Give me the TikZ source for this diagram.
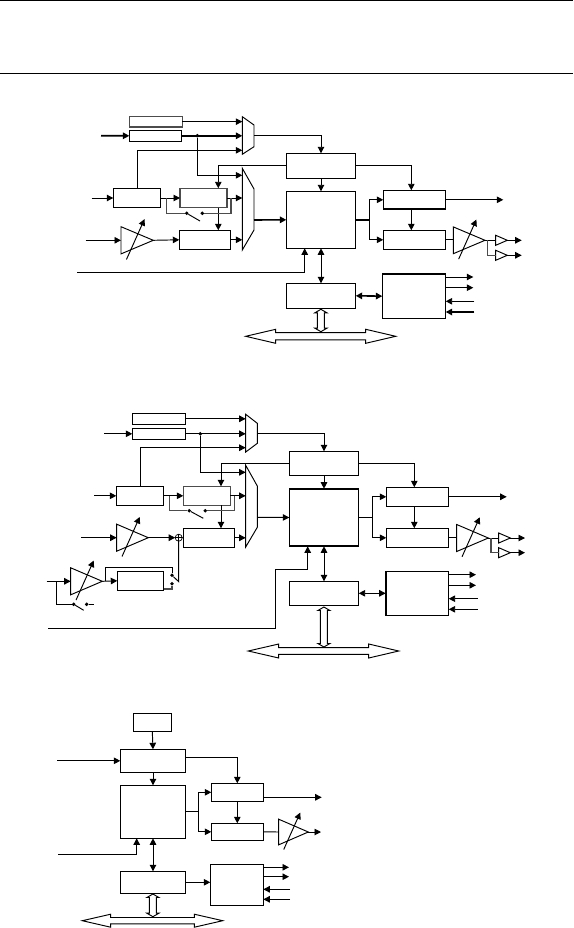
\documentclass[tikz,border=0pt]{standalone}
\usetikzlibrary{arrows.meta,calc}
\tikzset{
  ln/.style={line width=0.95pt,draw=black},
  ar/.style={ln,-{Triangle[length=6.5pt,width=6.5pt]}},
  dar/.style={ln,{Triangle[length=6.5pt,width=6.5pt]}-{Triangle[length=6.5pt,width=6.5pt]}},
  thk/.style={line width=1.8pt},
  hv/.style={line width=1.6pt},
  gry/.style={draw=black!70,line width=1.2pt},
  boxn/.style={rectangle,draw=black,line width=0.95pt,inner sep=0pt,outer sep=0pt},
  dotn/.style={circle,fill=black,inner sep=0pt,minimum size=3.8pt,outer sep=0pt},
  sumn/.style={circle,draw=black,line width=0.7pt,inner sep=0pt,minimum size=7pt,outer sep=0pt},
  shp/.style={line width=0.95pt,draw=black,fill=white,line join=miter},
  rulen/.style={line width=0.9pt,draw=black}
}
\newcommand\mybox[6][]{%
  \pgfmathsetmacro\bxW{#5-#3}\pgfmathsetmacro\bxH{#6-#4}%
  \pgfmathsetmacro\bxX{(#5+#3)/2}\pgfmathsetmacro\bxY{(#6+#4)/2}%
  \node[boxn,minimum width=\bxW pt,minimum height=\bxH pt,#1] (#2) at (\bxX,\bxY) {};}
% name, x1, x2, y1..y4, ymid
\newcommand\mymux[8]{%
  \draw[shp] (#2,#4) -- (#3,#5) -- (#3,#6) -- (#2,#7) -- cycle;
  \coordinate (#1) at (#2,#8); \coordinate (#1O) at (#3,#8);}
% name, xl, xr, yc, half height
\newcommand\myamp[5]{%
  \pgfmathsetmacro\ampS{(#3-#2)/32}%
  \draw[shp] (#2,#4-#5) -- (#3,#4) -- (#2,#4+#5) -- cycle;
  \coordinate (#1) at (#2,#4); \coordinate (#1O) at (#3,#4);
  \coordinate (#1S) at ($(#2,#4)+(5.4*\ampS,19*\ampS)$);
  \coordinate (#1E) at ($(#2,#4)+(23.3*\ampS,-21*\ampS)$);
  \draw[ar] (#1S) -- (#1E);}
% name, xl, xr, yc
\newcommand\mybuf[4]{%
  \draw[shp] (#2,#4-5) -- (#3,#4) -- (#2,#4+5) -- cycle;
  \coordinate (#1) at (#2,#4); \coordinate (#1O) at (#3,#4);}
% vertical hollow double arrow x,y1,y2
\newcommand\myvh[3]{%
  \draw[shp] (#1,#2) -- (#1+6,#2+3.5) -- (#1+3.5,#2+3.5) -- (#1+3.5,#3-3.5) -- (#1+6,#3-3.5) -- (#1,#3)
   -- (#1-6,#3-3.5) -- (#1-3.5,#3-3.5) -- (#1-3.5,#2+3.5) -- (#1-6,#2+3.5) -- cycle;}
% horizontal bus: tip1, base1, base2, tip2, yc, head half, shaft half
\newcommand\myhb[7]{%
  \draw[shp] (#1,#5) -- (#2,#5-#6) -- (#2,#5-#7) -- (#3,#5-#7) -- (#3,#5-#6) -- (#4,#5)
   -- (#3,#5+#6) -- (#3,#5+#7) -- (#2,#5+#7) -- (#2,#5+#6) -- cycle;}
\begin{document}
\begin{tikzpicture}[x=1pt,y=-1pt]
\useasboundingbox (0,0) rectangle (573,928);
\draw[rulen] (0,0.5) -- (573,0.5);
\draw[rulen] (0,73.5) -- (573,73.5);

%%%%%%%%%%%%%% Diagram 1
\mybox[gry]{aA}{129.3}{116.3}{182.3}{127}
\mybox{aB}{129.3}{130.3}{181.7}{141.3}
\mybox{aC}{113.3}{188.3}{160.7}{207.7}
\mybox[gry]{aD}{180}{188.3}{227}{207.7}
\mybox{aE}{179.3}{230.3}{230.7}{249.3}
\mybox{aF}{286.3}{153.3}{355.7}{178.3}
\mybox{aG}{286.3}{191.3}{355.7}{248.3}
\mybox{aH}{383.3}{190.3}{445.7}{209.3}
\mybox{aI}{383.3}{230.3}{445.7}{249.3}
\mybox{aJ}{286.3}{283.3}{355.7}{308.3}
\mybox{aK}{382.3}{274}{445.7}{318.3}
\draw[thk] (aH.south west) -- (aH.south east);
\draw[thk] (aK.north west) -- (aK.north east);
\mymux{aM1}{242.3}{254}{116.7}{125}{146.7}{154.3}{135.7}
\mymux{aM2}{242.3}{254}{168.3}{189}{230}{250}{220}
\myamp{aP}{121}{153.3}{240.3}{13.6}
\myamp{aQ}{453.3}{485}{240.3}{13.4}
\mybuf{aR}{495.7}{507.3}{240.3}
\mybuf{aT}{495.7}{507.3}{255.3}
\node[dotn] (aD1) at (197.3,135.7) {};
\node[dotn] (aD2) at (186.7,213.3) {};
\node[dotn] (aD3) at (202.3,213.3) {};
\coordinate (aIn1) at (101,135.7);
\coordinate (aIn2) at (91.7,198);
\coordinate (aIn3) at (85.7,240.3);
\coordinate (aIn4) at (77,272.3);
\coordinate (aGb) at (304.7,248.3);
\coordinate (aDt) at (218.3,188.3);
\coordinate (aJn) at (369.3,219.8);
\coordinate (aHt) at (411.3,190.3);
\coordinate (aCk) at (487.7,240.3);
\draw[ar] (aA.east) -- (aA.east -| aM1);
\draw[ar,hv] (aIn1) -- (aB.west);
\draw[ar,hv] (aB.east) -- (aB.east -| aM1);
\draw[ar] (aC.north) |- (aM1 |- 0,150.3);
\draw[ar] (aD1) |- (aM2 |- 0,175.3);
\draw[ar] (aIn2) -- (aC.west);
\draw[ar] (aC.east) -- (aD.west);
\draw[ar] (aD.east) -- (aD.east -| aM2);
\draw[ar] (aE.east) -- (aE.east -| aM2);
\draw[ar] (aF.west) -| (aDt);
\draw[ar] (aD.south -| aDt) -- (aE.north -| aDt);
\draw[ln,gry] (166.3,198) |- (aD2);
\draw[ln] (aD2) -- (200,221);
\draw[ln,gry] (aD3) -| (231,198);
\draw[ar] (aIn3) -- (aP);
\draw[ar] (aPO) -- (aE.west);
\draw[ar] (aIn4) -| (aGb);
\draw[ar] (aM1O) -| (aF.north);
\draw[ar] (aF.south) -- (aG.north);
\draw[ar,hv] (aM2O) -- (aG.west);
\draw[thk] (aG.east) -- (aJn);
\draw[ar] (aJn) |- (aH.west);
\draw[ar] (aJn) |- (aI.west);
\draw[ar] (aF.east) -| (aHt);
\draw[ar] (aH.south -| aHt) -- (aI.north -| aHt);
\draw[ar] (aH.east) -- (503.3,199.8);
\draw[ln] (aI.east) -- (aI.east -| aQ);
\draw[ln] (aQO) -- (aR);
\draw[ln,gry] (aCk) |- (aT);
\draw[ar] (aRO) -- (521.7,240.3);
\draw[ar] (aTO) -- (521.7,255.3);
\draw[dar] (aG.south) -- (aJ.north);
\draw[dar,hv] (aJ.east) -- (aK.west);
\draw[ar] (aK.east |- 0,277) -- (473.3,277);
\draw[ar] (aK.east |- 0,287.7) -- (473.3,287.7);
\draw[ar] (474.3,301.3) -- (aK.east |- 0,301.3);
\draw[ar,hv] (474.3,312) -- (aK.east |- 0,312);
\myvh{320.9}{309.3}{331.7}
\myhb{245.7}{275.7}{365.7}{395.7}{336.3}{7}{3.6}

%%%%%%%%%%%%%% Diagram 2
\mybox{bA}{132.3}{413.3}{185.7}{424.3}
\mybox{bB}{132.3}{428.3}{185.7}{439.3}
\mybox{bC}{116.3}{486.3}{163.7}{505.3}
\mybox[gry]{bD}{183.3}{486.3}{230.3}{505.3}
\mybox{bE}{183.3}{528.3}{234.3}{547.3}
\mybox{bL}{117.3}{571.3}{163.7}{590.3}
\mybox{bF}{289.3}{451.3}{358.7}{475.3}
\mybox{bG}{289.3}{488.7}{358.7}{546.3}
\mybox{bH}{386.3}{487.3}{448.7}{506.3}
\mybox{bI}{386.3}{528.3}{448.7}{547.3}
\mybox{bJ}{289.3}{581.3}{358.7}{605.3}
\mybox{bK}{385.7}{571.3}{448.7}{615.3}
\draw[thk] (bG.north west) -- (bG.north east);
\draw[thk] (bG.south west) -- (bG.south east);
\draw[thk] (bK.north west) -- (bK.south west);
\mymux{bM1}{245.7}{257.3}{414.3}{423.3}{443.3}{452}{433.3}
\mymux{bM2}{245.7}{257.3}{465.3}{486}{527.3}{547}{517.3}
\myamp{bP}{116.7}{148.3}{537.7}{13.5}
\myamp{bU}{70.7}{102.3}{581.3}{13.5}
\myamp{bQ}{456.7}{488.3}{538}{13.5}
\mybuf{bR}{498.7}{510.3}{538}
\mybuf{bT}{498.7}{510.3}{552.7}
\node[dotn] (bD1) at (200.3,433.8) {};
\node[dotn] (bD2) at (189.3,510.7) {};
\node[dotn] (bD3) at (205.3,510.7) {};
\node[dotn] (bD4) at (172,575.3) {};
\node[dotn] (bD5) at (172,583.7) {};
\node[dotn] (bD6) at (73.7,604.3) {};
\node[dotn] (bD7) at (86.7,604.3) {};
\node[sumn] (bS) at (178.7,537.7) {};
\draw[line width=0.6pt] (bS.north) -- (bS.south);
\draw[line width=0.6pt] (bS.west) -- (bS.east);
\coordinate (bIn1) at (104,433.8);
\coordinate (bIn2) at (94.3,495.8);
\coordinate (bIn3) at (81.3,537.7);
\coordinate (bIn4) at (46.7,581.3);
\coordinate (bIn5) at (48.3,628.3);
\coordinate (bDt) at (221,486.3);
\coordinate (bJn) at (372.3,517.5);
\coordinate (bHt) at (414.3,487.3);
\coordinate (bCk) at (491,538);
\coordinate (bGb) at (307.7,546.3);
\coordinate (bKnee) at (275.7,569.3);
\coordinate (bSw) at (178.7,581.7);
\draw[ar] (bA.east) -- (bA.east -| bM1);
\draw[ar] (bIn1) -- (bB.west);
\draw[ar] (bB.east) -- (bB.east -| bM1);
\draw[ar] (bC.north) |- (bM1 |- 0,447.7);
\draw[ar] (bD1) |- (bM2 |- 0,472.3);
\draw[ar] (bIn2) -- (bC.west);
\draw[ar] (bC.east) -- (bD.west);
\draw[ar] (bD.east) -- (bD.east -| bM2);
\draw[ar] (bE.east) -- (bE.east -| bM2);
\draw[ar] (bF.west) -| (bDt);
\draw[ar] (bD.south -| bDt) -- (bE.north -| bDt);
\draw[ln,gry] (169.3,495.8) |- (bD2);
\draw[ln] (bD2) -- (203.3,518.3);
\draw[ln,gry] (bD3) -| (234.3,495.8);
\draw[ar] (bIn3) -- (bP);
\draw[ar] (bPO) -- (bS.west);
\draw[ln] (bS.east) -- (bE.west);
\draw[ar] (bIn4) -- (bU);
\draw[ar] (bUO) -- (bL.west);
\draw[ln] (105,581.3) |- (172,567.3) -- (bD4);
\draw[ln,gry] (bL.east |- 0,589) -| (bD5);
\draw[ln] (bD4) -- (bSw) -- (bS.south);
\draw[ln] (56,581.3) |- (bD6);
\draw[ln] (bD6) -- (83.7,610.3);
\draw[ln] (bD7) -- (94.3,604.3);
\draw[ln] (bIn5) -| (bKnee);
\draw[ar] (bKnee) -| (bGb);
\draw[ar] (bM1O) -| (bF.north);
\draw[ar] (bF.south) -- (bG.north);
\draw[ar] (bM2O) -- (bG.west);
\draw[ln] (bG.east) -- (bJn);
\draw[ar] (bJn) |- (bH.west);
\draw[ar] (bJn) |- (bI.west);
\draw[ar] (bF.east) -| (bHt);
\draw[ar] (bH.south -| bHt) -- (bI.north -| bHt);
\draw[ar] (bH.east) -- (506.7,496.8);
\draw[ln] (bI.east) -- (bI.east -| bQ);
\draw[ln] (bQO) -- (bR);
\draw[ln,gry] (bCk) |- (bT);
\draw[ar] (bRO) -- (525,538);
\draw[ar] (bTO) -- (525,552.7);
\draw[dar] (bG.south) -- (bJ.north);
\draw[dar] (bJ.east) -- (bK.west);
\draw[ar] (bK.east |- 0,574.7) -- (476,574.7);
\draw[ar] (bK.east |- 0,585.3) -- (476,585.3);
\draw[ar] (477.7,598.7) -- (bK.east |- 0,598.7);
\draw[ar] (477.7,609.3) -- (bK.east |- 0,609.3);
\myvh{323.9}{607}{647}
\myhb{248.3}{278.7}{368.7}{398.7}{651}{7}{3.4}

%%%%%%%%%%%%%% Diagram 3
\mybox{cT}{133.3}{713.3}{171.3}{731.3}
\mybox{cF}{120.3}{749.3}{185.7}{772.3}
\mybox{cG}{120.3}{785.3}{185.7}{838.3}
\mybox{cH}{211.3}{783.3}{263.3}{801.3}
\mybox{cI}{211.3}{823.3}{263.3}{840.3}
\mybox{cJ}{120.3}{871.3}{185.7}{893.3}
\mybox{cK}{210.3}{864.3}{263.3}{905.3}
\myamp{cQ}{278.7}{308.3}{832}{12.8}
\coordinate (cIn1) at (57,760.8);
\coordinate (cIn2) at (58,854.3);
\coordinate (cGb) at (136.7,838.3);
\coordinate (cJn) at (198.3,811.8);
\coordinate (cHt) at (237.3,783.3);
\draw[ar] (cT.south) -- (cF.north);
\draw[ar] (cIn1) -- (cF.west);
\draw[ar] (cF.south) -- (cG.north);
\draw[ln] (cG.east) -- (cJn);
\draw[ar] (cJn) |- (cH.west);
\draw[ar] (cJn) |- (cI.west);
\draw[ar] (cF.east |- 0,757.3) -| (cHt);
\draw[ar] (cH.south -| cHt) -- (cI.north -| cHt);
\draw[ar] (cH.east |- 0,797.3) -- (321.7,797.3);
\draw[ln] (cI.east) -- (cQ);
\draw[ar] (cQO) -- (321,832);
\draw[ar] (cIn2) -| (cGb);
\draw[dar] (cG.south) -- (cJ.north);
\draw[ar] (cJ.east) -- (cK.west |- cJ.east);
\draw[ar] (cK.east |- 0,867.3) -- (289,867.3);
\draw[ar] (cK.east |- 0,876.7) -- (289,876.7);
\draw[ar] (290,889.3) -- (cK.east |- 0,889.3);
\draw[ar] (290,899.3) -- (cK.east |- 0,899.3);
\myvh{152.9}{894}{916.7}
\myhb{82.3}{110.7}{194.3}{222.7}{920.7}{6.5}{3.2}
\end{tikzpicture}
\end{document}
